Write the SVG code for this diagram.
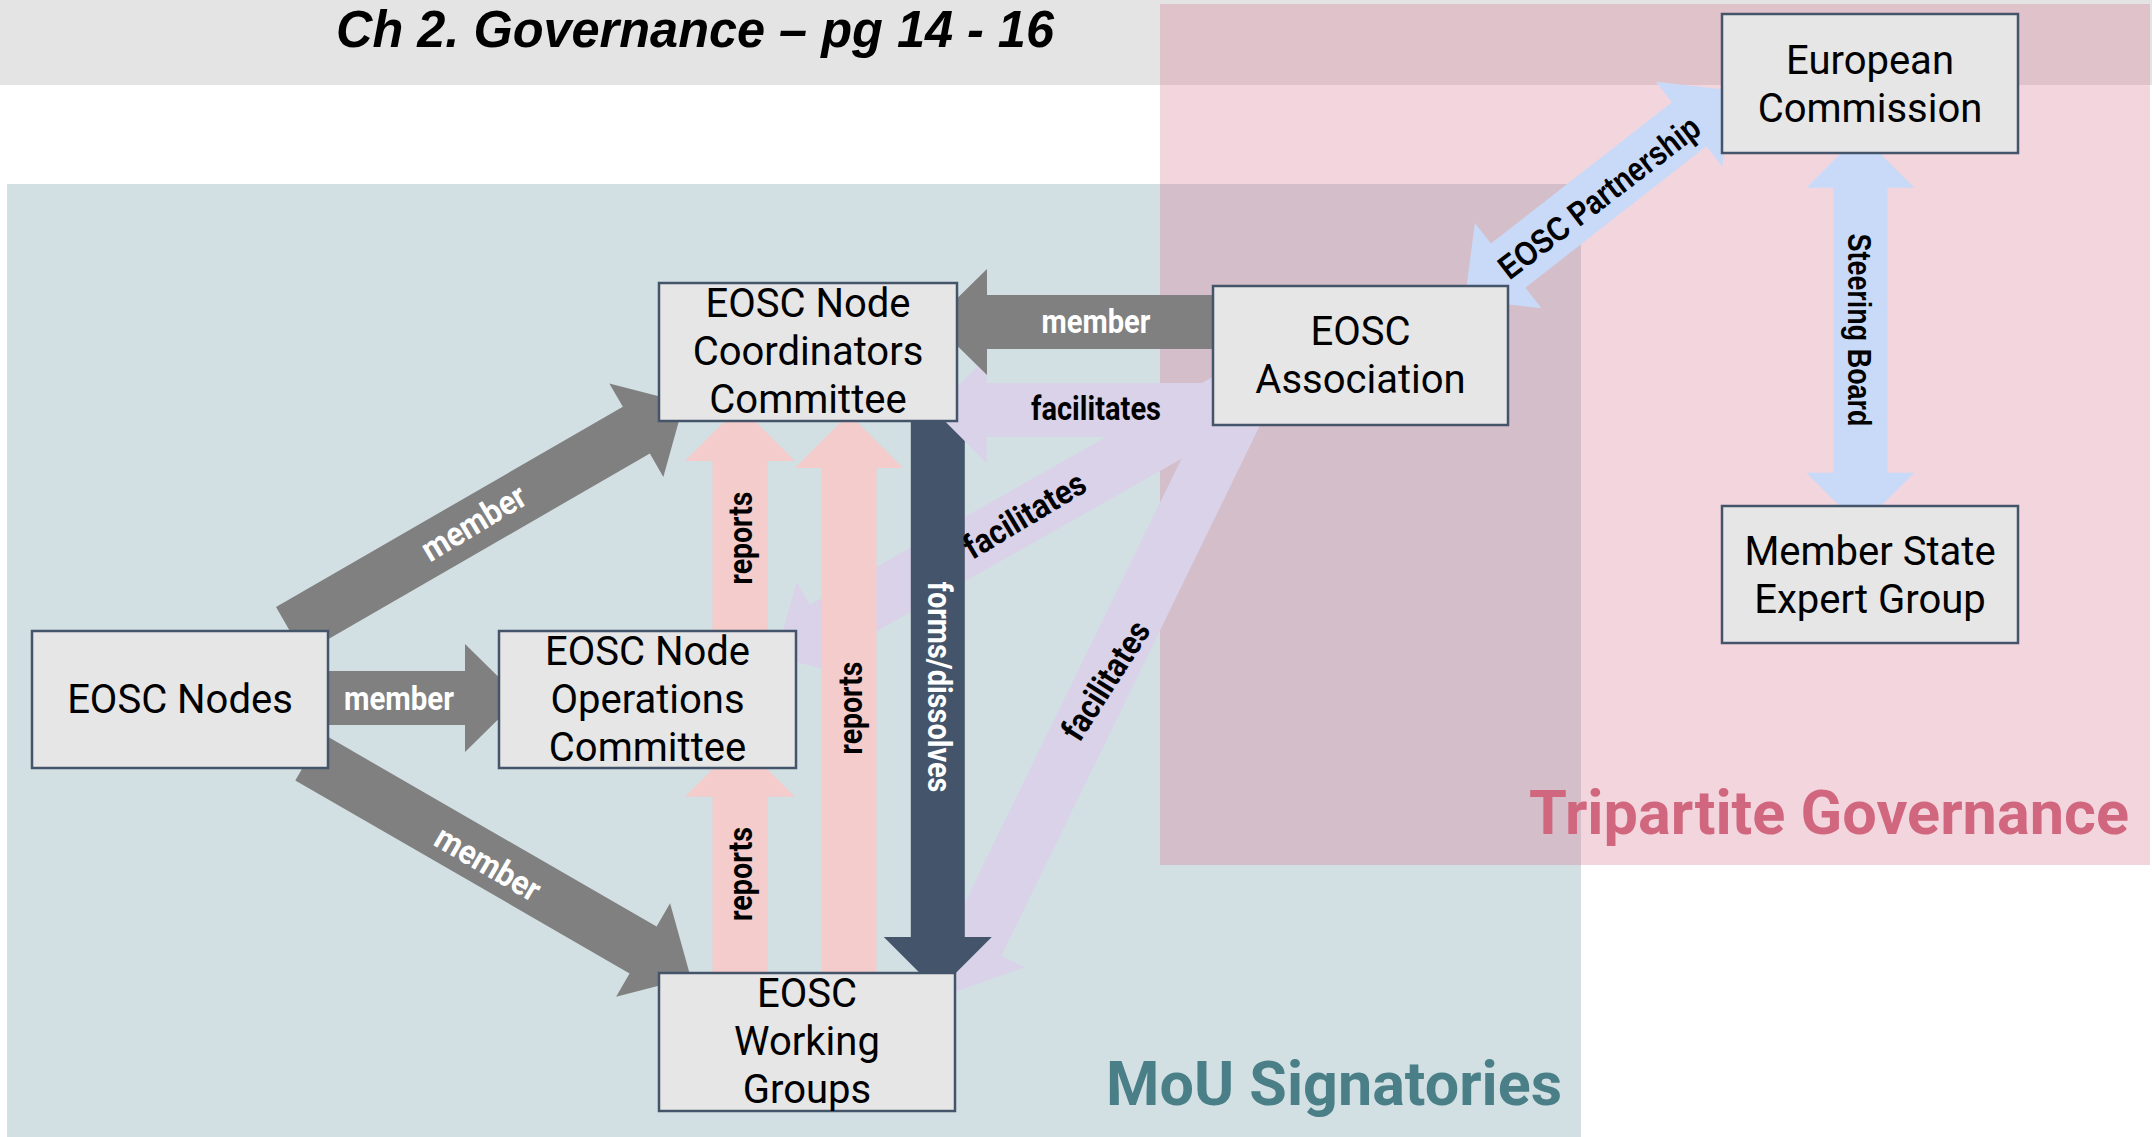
<svg xmlns="http://www.w3.org/2000/svg" width="2152" height="1137" viewBox="0 0 2152 1137">
<style>
.node rect{fill:#e6e6e6;stroke:#44546a;stroke-width:2.5}
.node text{font-family:Roboto,"Liberation Sans",sans-serif;font-size:40px;fill:#000;text-anchor:middle}
.lbl{font-family:Roboto,"Liberation Sans",sans-serif;font-weight:bold;font-size:34px;text-anchor:middle}
.lbl2{font-family:"Liberation Sans",Arial,sans-serif;font-weight:bold;font-size:34px;text-anchor:middle;fill:#000}
.w{fill:#fff}
.k{fill:#000}
.gray{fill:#808080}
.lav{fill:#d9d2e9}
.pink{fill:#f4cccc}
.blue{fill:#c9daf8}
.dark{fill:#44546a}
.region{font-family:Roboto,"Liberation Sans",sans-serif;font-weight:bold;font-size:62px}
</style>
<rect width="2152" height="1137" fill="#fff"/>
<g id="regions">
<rect x="0" y="0" width="2152" height="85" fill="#e4e4e4"/>
<rect x="7" y="184" width="1574" height="953" fill="#d2dfe3"/>
<rect x="1160" y="4" width="990" height="861" fill="rgb(215,115,142)" fill-opacity="0.3"/>
<text class="region" x="1529" y="834" fill="#d1677f" textLength="600" lengthAdjust="spacingAndGlyphs">Tripartite Governance</text>
<text class="region" x="1106" y="1105" fill="#4a7f88" textLength="456" lengthAdjust="spacingAndGlyphs">MoU Signatories</text>
<text x="336" y="47" font-family="'Liberation Sans',Arial,sans-serif" font-weight="bold" font-style="italic" font-size="52" fill="#000" textLength="718" lengthAdjust="spacingAndGlyphs">Ch 2. Governance – pg 14 - 16</text>
</g>
<g id="connectors">
<polygon class="lav" transform="translate(1252.7,386.3) rotate(150.5)" points="0,-28 493.2,-28 493.2,-54 548.2,0 493.2,54 493.2,28 0,28"/>
<polygon class="lav" transform="translate(1251,380) rotate(116)" points="0,-28 627,-28 627,-54 682,0 627,54 627,28 0,28"/>
<polygon class="dark" transform="translate(937.8,415) rotate(90)" points="0,-27 522,-27 522,-54 576,0 522,54 522,27 0,27"/>
<polygon class="lav" transform="translate(1225,410) rotate(180)" points="0,-27 238.3,-27 238.3,-53 291.3,0 238.3,53 238.3,27 0,27"/>
<polygon class="gray" transform="translate(1220,322) rotate(180)" points="0,-27 233,-27 233,-53 287,0 233,53 233,27 0,27"/>
<polygon class="pink" transform="translate(740,640) rotate(-90)" points="0,-27.5 179,-27.5 179,-55 234,0 179,55 179,27.5 0,27.5"/>
<polygon class="pink" transform="translate(740,980) rotate(-90)" points="0,-27.5 183.3,-27.5 183.3,-55 238.3,0 183.3,55 183.3,27.5 0,27.5"/>
<polygon class="pink" transform="translate(849,980) rotate(-90)" points="0,-27.5 512,-27.5 512,-54 566,0 512,54 512,27.5 0,27.5"/>
<polygon class="gray" transform="translate(289.5,630.4) rotate(-30)" points="0,-27 400.5,-27 400.5,-54 455.5,0 400.5,54 400.5,27 0,27"/>
<polygon class="gray" transform="translate(308.8,757) rotate(30)" points="0,-27 386,-27 386,-54 441,0 386,54 386,27 0,27"/>
<polygon class="gray" transform="translate(320,698)" points="0,-27 145,-27 145,-54 200,0 145,54 145,27 0,27"/>
<polygon class="blue" transform="translate(1464.8,299.5) rotate(-38)" points="0,0 55,-54 55,-28 284.65,-28 284.65,-54 339.65,0 284.65,54 284.65,28 55,28 55,54"/>
<polygon class="blue" transform="translate(1860.3,133.7) rotate(90)" points="0,0 54,-54 54,-27 339,-27 339,-54 393,0 339,54 339,27 54,27 54,54"/>
<text class="lbl w" transform="translate(475,525) rotate(-31)" y="9" textLength="116" lengthAdjust="spacingAndGlyphs">member</text>
<text class="lbl w" transform="translate(486.7,865.8) rotate(30)" y="9" textLength="116" lengthAdjust="spacingAndGlyphs">member</text>
<text class="lbl w" x="399" y="710" textLength="110" lengthAdjust="spacingAndGlyphs">member</text>
<text class="lbl w" x="1096" y="333" textLength="109" lengthAdjust="spacingAndGlyphs">member</text>
<text class="lbl k" x="1096" y="420" textLength="130" lengthAdjust="spacingAndGlyphs">facilitates</text>
<text class="lbl k" transform="translate(1026,517.5) rotate(-31)" y="9" textLength="136" lengthAdjust="spacingAndGlyphs">facilitates</text>
<text class="lbl k" transform="translate(1108,682) rotate(-57.5)" y="9" textLength="134" lengthAdjust="spacingAndGlyphs">facilitates</text>
<text class="lbl k" transform="translate(742.5,538) rotate(-90)" y="9.2" textLength="93" lengthAdjust="spacingAndGlyphs">reports</text>
<text class="lbl k" transform="translate(742.5,874) rotate(-90)" y="9.2" textLength="94" lengthAdjust="spacingAndGlyphs">reports</text>
<text class="lbl k" transform="translate(852.5,708) rotate(-90)" y="9.2" textLength="93" lengthAdjust="spacingAndGlyphs">reports</text>
<text class="lbl w" transform="translate(937.5,687) rotate(90)" y="9.2" textLength="211" lengthAdjust="spacingAndGlyphs">forms/dissolves</text>
<text class="lbl2" transform="translate(1599,197) rotate(-37.5)" y="12" textLength="244" lengthAdjust="spacingAndGlyphs">EOSC Partnership</text>
<text class="lbl2" transform="translate(1860.8,330) rotate(90)" y="12.5" textLength="193" lengthAdjust="spacingAndGlyphs">Steering Board</text>
</g>
<g id="node-coordinators" class="node">
<rect x="659" y="283" width="298" height="138"/>
<text x="808" y="317">EOSC Node</text>
<text x="808" y="365">Coordinators</text>
<text x="808" y="413">Committee</text>
</g>
<g id="node-operations" class="node">
<rect x="499" y="631" width="297" height="137"/>
<text x="647.5" y="664.5">EOSC Node</text>
<text x="647.5" y="712.5">Operations</text>
<text x="647.5" y="760.5">Committee</text>
</g>
<g id="node-nodes" class="node">
<rect x="32" y="631" width="296" height="137"/>
<text x="180" y="713">EOSC Nodes</text>
</g>
<g id="node-workinggroups" class="node">
<rect x="659" y="973" width="296" height="138"/>
<text x="807" y="1007">EOSC</text>
<text x="807" y="1055">Working</text>
<text x="807" y="1103">Groups</text>
</g>
<g id="node-association" class="node">
<rect x="1213" y="286" width="295" height="139"/>
<text x="1360.5" y="344.5">EOSC</text>
<text x="1360.5" y="392.5">Association</text>
</g>
<g id="node-commission" class="node">
<rect x="1722" y="14" width="296" height="139"/>
<text x="1870" y="73.5">European</text>
<text x="1870" y="121.5">Commission</text>
</g>
<g id="node-expertgroup" class="node">
<rect x="1722" y="506" width="296" height="137"/>
<text x="1870" y="564.5">Member State</text>
<text x="1870" y="612.5">Expert Group</text>
</g>
</svg>
